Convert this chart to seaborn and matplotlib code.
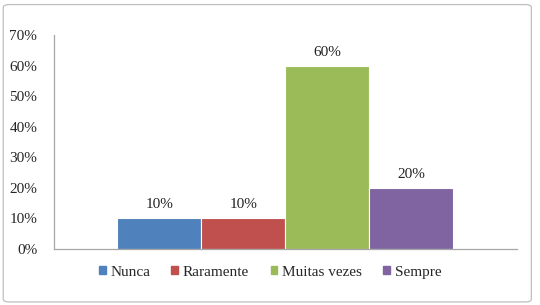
import matplotlib
matplotlib.use("Agg")
import matplotlib.pyplot as plt
import matplotlib.patches as mpatches
import seaborn as sns
import pandas as pd

# dados
respostas = ["Nunca", "Raramente", "Muitas vezes", "Sempre"]
valores   = [0.10, 0.10, 0.60, 0.20]
cores     = ["#4F81BD", "#C0504D", "#9BBB59", "#8064A2"]
yticks    = [0.0, 0.1, 0.2, 0.3, 0.4, 0.5, 0.6, 0.7]

df = pd.DataFrame({"grupo": [""] * len(respostas), "resposta": respostas, "valor": valores})

sns.set_style("white")
plt.rcParams["font.family"] = ["Liberation Serif", "DejaVu Serif"]

fig = plt.figure(figsize=(5.4, 3.05), dpi=100)
ax = fig.add_axes([0.1, 0.1836, 0.857, 0.7016])

sns.barplot(data=df, x="grupo", y="valor", hue="resposta", hue_order=respostas,
            palette=cores, width=0.726, saturation=1, legend=False,
            edgecolor="white", linewidth=0.8, ax=ax)

ax.set_xlim(-0.5, 0.5)
ax.set_ylim(0, 0.7)
ax.set_yticks(yticks)
ax.set_yticklabels([f"{int(round(t*100))}%" for t in yticks], fontsize=11)
ax.set_xticks([])
ax.set_xlabel("")
ax.set_ylabel("")
ax.tick_params(axis="y", length=0, pad=12)
for s in ["top", "right"]:
    ax.spines[s].set_visible(False)
for s in ["left", "bottom"]:
    ax.spines[s].set_color("#A6A6A6")
    ax.spines[s].set_linewidth(0.9)

# rótulos de dados
for bar, v in zip(ax.patches, valores):
    ax.annotate(f"{int(round(v*100))}%", (bar.get_x() + bar.get_width() / 2, bar.get_height()),
                xytext=(0, 5), textcoords="offset points", ha="center", va="bottom",
                fontsize=11, color="#222222")

handles = [mpatches.Patch(color=c, label=r) for c, r in zip(cores, respostas)]
fig.legend(handles=handles, loc="center", bbox_to_anchor=(0.5, 0.108), ncol=4,
           frameon=False, fontsize=11, handlelength=0.45, handleheight=0.45,
           handletextpad=0.3, columnspacing=1.4)

# moldura do gráfico
fig.patches.append(mpatches.FancyBboxPatch((0.006, 0.01), 0.978, 0.975,
                   boxstyle="round,pad=0,rounding_size=0.01", transform=fig.transFigure,
                   fill=False, edgecolor="#BFBFBF", linewidth=0.9))

fig.savefig("out.png", dpi=100)
